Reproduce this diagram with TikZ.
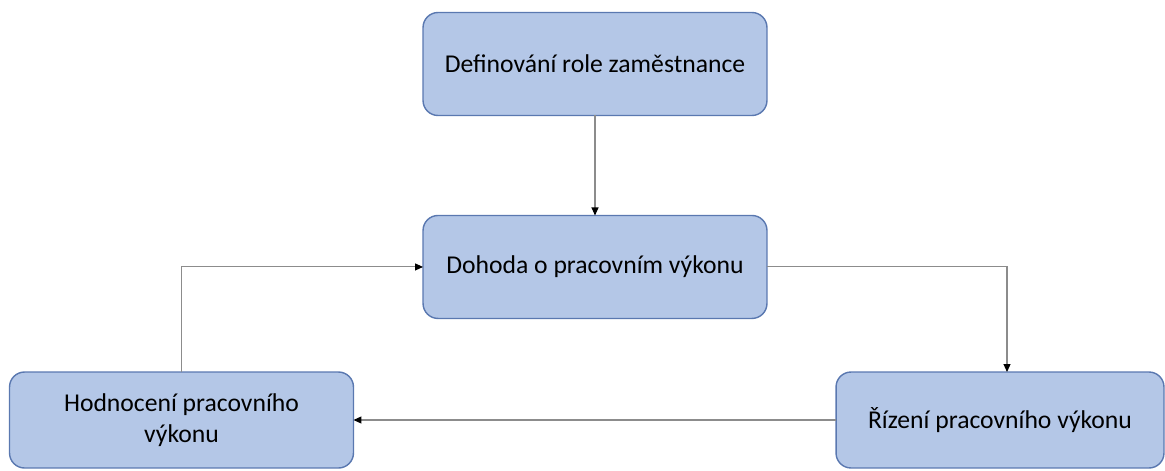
\documentclass[tikz,border=0pt]{standalone}
\usepackage{fontspec}
\setmainfont{Carlito}
\usetikzlibrary{positioning,arrows.meta}
\definecolor{boxfill}{HTML}{B4C7E7}
\definecolor{boxline}{HTML}{5A78B0}
\definecolor{linkgray}{HTML}{8C8C8C}

\begin{document}
\begin{tikzpicture}[x=0.02cm,y=-0.02cm,node distance=2cm,
  flow node/.style={rectangle,rounded corners=0.3cm,fill=boxfill,draw=boxline,line width=0.8pt,
    minimum width=6.88cm,minimum height=2.06cm,align=center,font=\fontsize{14.6}{17.5}\selectfont,outer sep=0pt},
  low node/.style={flow node,minimum height=1.92cm},
  link/.style={draw=linkgray,line width=0.6pt,-{Triangle[length=1.6mm,width=1.4mm,fill=black,color=black]}}]

  \useasboundingbox (0,0) rectangle (1165,470);

  \node[flow node]  (def) at (595,64) {Definování role zaměstnance};
  \node[flow node]  (doh) [below=of def] {Dohoda o pracovním výkonu};
  \node[low node]   (hod) at (181.5,420) {Hodnocení pracovního\\výkonu};
  \node[low node, minimum width=6.56cm] (riz) at (1000,420) {Řízení pracovního výkonu};

  \draw[link] (def) -- (doh);
  \draw[link] (doh.east) -| ([xshift=0.14cm]riz.north);
  \draw[link] (riz.west) -- (hod.east);
  \draw[link] (hod.north) |- (doh.west);
\end{tikzpicture}
\end{document}
